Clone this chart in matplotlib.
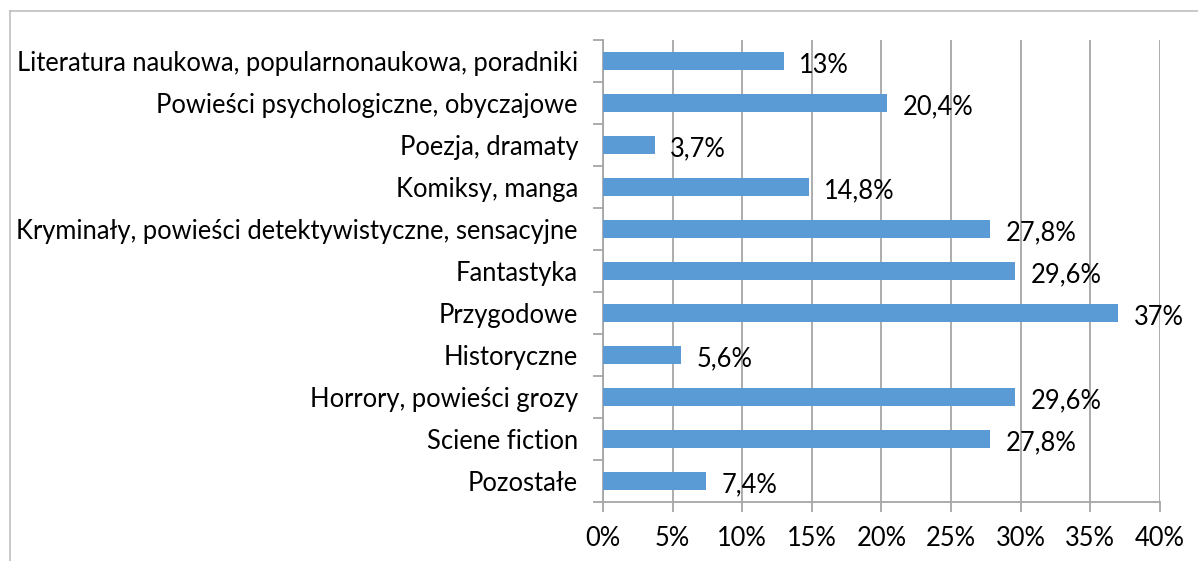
import matplotlib
matplotlib.use("Agg")
import matplotlib.pyplot as plt
from matplotlib.lines import Line2D

categories = [
    "Literatura naukowa, popularnonaukowa, poradniki",
    "Powieści psychologiczne, obyczajowe",
    "Poezja, dramaty",
    "Komiksy, manga",
    "Kryminały, powieści detektywistyczne, sensacyjne",
    "Fantastyka",
    "Przygodowe",
    "Historyczne",
    "Horrory, powieści grozy",
    "Sciene fiction",
    "Pozostałe",
]
values = [13, 20.4, 3.7, 14.8, 27.8, 29.6, 37, 5.6, 29.6, 27.8, 7.4]
value_labels = ["13%", "20,4%", "3,7%", "14,8%", "27,8%", "29,6%", "37%", "5,6%", "29,6%", "27,8%", "7,4%"]
xticks = [0, 5, 10, 15, 20, 25, 30, 35, 40]
xtick_labels = ["0%", "5%", "10%", "15%", "20%", "25%", "30%", "35%", "40%"]

plt.rcParams['font.family'] = ['Lato', 'DejaVu Sans']
FS = 18.4

W, H = 1198, 561
fig = plt.figure(figsize=(W / 100, H / 100), dpi=100)
ax = fig.add_axes([603 / W, 1 - 502 / H, (1160 - 603) / W, (502 - 40) / H])

ypos = list(range(len(categories)))
ax.barh(ypos, values, height=0.42, color="#5B9BD5", zorder=3)
ax.set_ylim(len(categories) - 0.5, -0.5)
ax.set_xlim(0, 40)

grid_c = "#A6A6A6"
ax.set_xticks(xticks)
ax.set_xticklabels(xtick_labels, fontsize=FS, color="black")
ax.set_yticks(ypos)
ax.set_yticklabels(categories, fontsize=FS, color="black")
ax.set_yticks([i - 0.5 for i in range(len(categories) + 1)], minor=True)
ax.tick_params(axis="y", which="major", length=0, pad=18)
ax.tick_params(axis="y", which="minor", length=7, color=grid_c, width=1.3)
ax.tick_params(axis="x", which="major", length=7, color=grid_c, width=1.3, pad=10)
ax.xaxis.grid(True, color=grid_c, linewidth=1.3, zorder=0)
ax.set_axisbelow(True)
for s in ["top", "right"]:
    ax.spines[s].set_visible(False)
for s in ["left", "bottom"]:
    ax.spines[s].set_color(grid_c)
    ax.spines[s].set_linewidth(1.3)

for y, v, lab in zip(ypos, values, value_labels):
    ax.annotate(lab, (v, y), xytext=(11, -3), textcoords="offset points",
                ha="left", va="center", fontsize=FS, color="black", zorder=4)

# outer frame lines
fig.add_artist(Line2D([10 / W, 1], [1 - 11 / H, 1 - 11 / H], color="#BFBFBF", lw=1.2, transform=fig.transFigure))
fig.add_artist(Line2D([10 / W, 10 / W], [0, 1 - 11 / H], color="#BFBFBF", lw=1.2, transform=fig.transFigure))

fig.savefig("out.png", dpi=100)
